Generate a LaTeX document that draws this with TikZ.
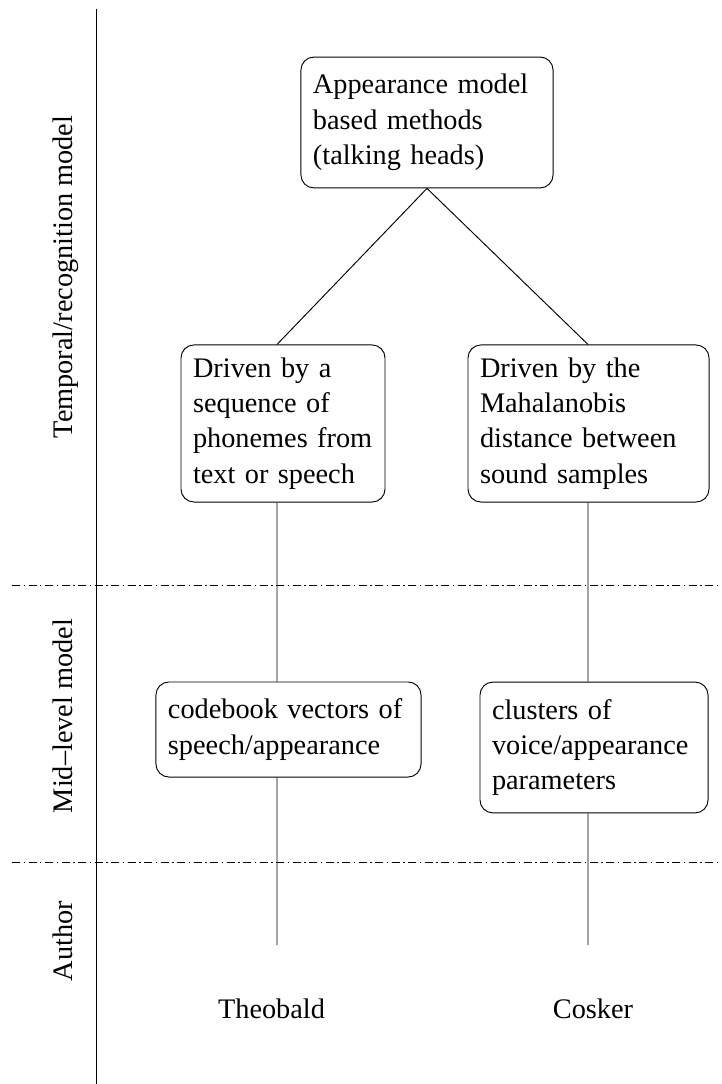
\documentclass[tikz,border=0pt]{standalone}
\usepackage{fontspec}
\setmainfont{Liberation Serif}

\begin{document}
\begin{tikzpicture}[x=0.424pt,y=-0.424pt,
	every node/.style={font=\fontsize{12}{15}\selectfont},
	stage/.style={draw,rounded corners=5.5pt,align=left,inner xsep=5.1pt,inner ysep=0pt},
	level/.style={rotate=90,anchor=base},
	divider/.style={dash pattern=on 3.4pt off 1.5pt on 0.6pt off 1.5pt}]
	
	\useasboundingbox (0,0) rectangle (721,1084);
	
	\coordinate (axT) at (96.5,9);     % top of the level axis
	\coordinate (axB) at (96.5,1084);  % bottom of the level axis
	\coordinate (endT) at (277,945);   % foot of the Theobald column
	\coordinate (endC) at (588,945);   % foot of the Cosker column
	
	% levels
	\draw (axT)--(axB);
	\draw[divider] (12,585)--(721,585) (12,862)--(721,862);
	\path
		(72,277) node[level] (temp) {Temporal/recognition model}
		(72,716) node[level] (mid)  {Mid--level model}
		(72,941) node[level] (auth) {Author};
	
	% boxes
	\node[stage,text width=96.7pt,minimum height=55.5pt] (appear) at (427,122.5)
		{Appearance model\\based methods\\(talking heads)};
	\node[stage,text width=76.3pt,minimum height=66.6pt] (drvT) at (283,423.5)
		{Driven by a\\sequence of\\phonemes from\\text or speech};
	\node[stage,text width=92pt,minimum height=66.6pt] (drvC) at (588.5,423.5)
		{Driven by the\\Mahalanobis\\distance between\\sound samples};
	\node[stage,text width=102.2pt,minimum height=40.3pt] (codeT) at (288.5,729.5)
		{codebook vectors of\\speech/appearance};
	\node[stage,text width=86.5pt,minimum height=55.5pt] (clusC) at (594,747.5)
		{clusters of\\voice/appearance\\parameters};
	
	% authors
	\node[anchor=base] (theo) at (271.5,1018) {Theobald};
	\node[anchor=base] (cosk) at (593,1018)   {Cosker};
	
	% connectors
	\draw (appear.south)--(drvT.north -| endT)
		(appear.south)--(drvC.north -| endC)
		(drvT.south -| endT)--(codeT.north -| endT)
		(codeT.south -| endT)--(endT)
		(drvC.south -| endC)--(clusC.north -| endC)
		(clusC.south -| endC)--(endC);
	
\end{tikzpicture}
\end{document}
